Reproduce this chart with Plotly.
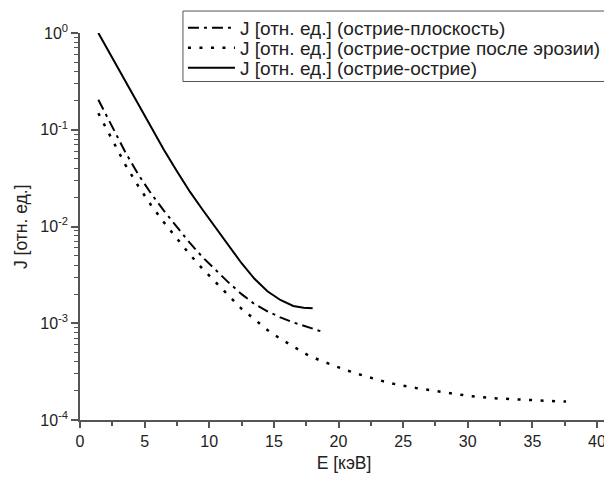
import plotly.graph_objects as go

# Data
E_plane = [1.42, 2.5, 3.5, 4.5, 5.5, 6.5, 7.5, 8.5, 9.5, 10.5, 11.5, 12.5, 13.5, 14.5, 15.5, 16.5, 17.5, 18.8]
J_plane = [0.204, 0.107, 0.0589, 0.0347, 0.0219, 0.0145, 0.00977, 0.00676, 0.00479, 0.00355,
           0.00263, 0.00200, 0.00158, 0.00133, 0.00115, 0.00102, 0.000923, 0.000813]

E_eroded = [1.42, 2.5, 3.5, 4.5, 5.5, 6.5, 7.5, 8.5, 9.5, 10.5, 11.5, 12.5, 13.5, 14.5, 15.5, 16.5,
            17.5, 18.5, 19.5, 20.5, 22, 24, 26, 28, 30, 32, 34, 36, 37.6]
J_eroded = [0.148, 0.0776, 0.0437, 0.0263, 0.0166, 0.0110, 0.00741, 0.00513, 0.00363, 0.00263,
            0.00191, 0.00141, 0.00110, 0.000851, 0.000692, 0.000575, 0.000479, 0.000417, 0.000372,
            0.000331, 0.000285, 0.000240, 0.000214, 0.000195, 0.000178, 0.000168, 0.000162,
            0.000158, 0.000155]

E_tip = [1.42, 2.5, 3.5, 4.5, 5.5, 6.5, 7.5, 8.5, 9.5, 10.5, 11.5, 12.5, 13.5, 14.5, 15.5, 16.5, 17.3, 18.0]
J_tip = [1.0, 0.55, 0.316, 0.182, 0.105, 0.0617, 0.0372, 0.0229, 0.0148, 0.00977, 0.00646,
         0.00417, 0.00288, 0.00214, 0.00174, 0.00151, 0.00145, 0.00143]

names = ["J [отн. ед.] (острие-плоскость)",
         "J [отн. ед.] (острие-острие после эрозии)",
         "J [отн. ед.] (острие-острие)"]

y_tickvals = [1e-4, 1e-3, 1e-2, 1e-1, 1]
y_ticktext = ["10<sup>-4</sup>", "10<sup>-3</sup>", "10<sup>-2</sup>", "10<sup>-1</sup>", "10<sup>0</sup>"]
x_tickvals = [0, 5, 10, 15, 20, 25, 30, 35, 40]

x_title = "E [кэВ]"
y_title = "J [отн. ед.]"

FONT = "Liberation Sans, Arial, sans-serif"
AX = "#555555"
TXT = "#222222"

fig = go.Figure()
fig.add_trace(go.Scatter(x=E_plane, y=J_plane, mode="lines", name=names[0], legend="legend",
                         line=dict(color="black", width=2, dash="11px,5px,3px,5px")))
fig.add_trace(go.Scatter(x=E_eroded, y=J_eroded, mode="lines", name=names[1], legend="legend2",
                         line=dict(color="black", width=2.5, dash="3px,8.5px")))
fig.add_trace(go.Scatter(x=E_tip, y=J_tip, mode="lines", name=names[2], legend="legend3",
                         line=dict(color="black", width=2)))

minor_y = [m * 10 ** e for e in range(-4, 0) for m in range(2, 10)]


def leg(ypos):
    return dict(x=0.195, y=ypos, xanchor="left", yanchor="middle",
                bgcolor="rgba(0,0,0,0)", borderwidth=0,
                font=dict(size=19, family=FONT, color=TXT),
                tracegroupgap=0, itemwidth=47)


# The page body adds an 8px margin, so the figure is 8px smaller and margins shifted
fig.update_layout(
    width=604, height=471,
    margin=dict(l=72, r=4, t=25, b=59, autoexpand=False),
    paper_bgcolor="white", plot_bgcolor="white",
    font=dict(family=FONT, color=TXT),
    showlegend=True,
    legend=leg((420 - 28) / 387),
    legend2=leg((420 - 48) / 387),
    legend3=leg((420 - 68) / 387),
    shapes=[dict(type="rect", xref="paper", yref="paper", x0=0.195, x1=1.0019, y0=0.8747, y1=1.0568,
                 line=dict(color="#555555", width=1), fillcolor="white", layer="above")],
    annotations=[dict(text=y_title, xref="paper", yref="paper", x=-(80 - 20.5) / 528, y=0.5,
                      textangle=-90, showarrow=False, xanchor="center", yanchor="middle",
                      font=dict(size=17.5, family=FONT, color=TXT))],
    xaxis=dict(range=[0, 40.85], tickmode="array", tickvals=x_tickvals,
               showgrid=False, zeroline=False, showline=True, linecolor=AX, linewidth=1.5,
               ticks="outside", ticklen=6, tickwidth=1.5, tickcolor=AX,
               tickfont=dict(size=16, family=FONT, color=TXT),
               minor=dict(tickmode="linear", tick0=0, dtick=2.5, ticks="outside", ticklen=4,
                          tickwidth=1.5, tickcolor=AX, showgrid=False),
               title=dict(text=x_title, font=dict(size=17.5, family=FONT, color=TXT), standoff=8)),
    yaxis=dict(type="log", range=[-4, 0], tickmode="array", tickvals=y_tickvals, ticktext=y_ticktext,
               showgrid=False, zeroline=False, showline=True, linecolor=AX, linewidth=1.5,
               ticks="outside", ticklen=7, tickwidth=1.5, tickcolor=AX,
               tickfont=dict(size=16, family=FONT, color=TXT),
               minor=dict(tickmode="array", tickvals=minor_y, ticks="outside", ticklen=4,
                          tickwidth=1.2, tickcolor=AX, showgrid=False)),
)

fig.write_html("out.html")
